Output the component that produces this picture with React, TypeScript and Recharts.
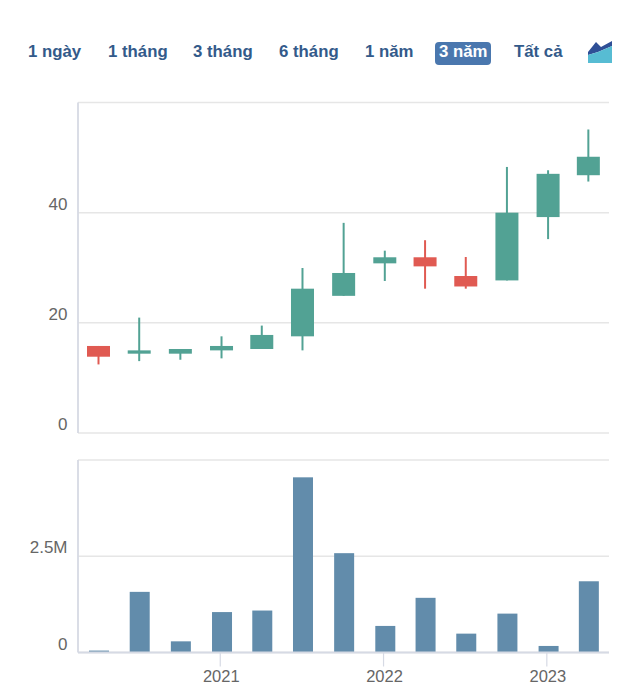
import { BarChart, Bar, XAxis, YAxis, CartesianGrid } from 'recharts';

const dates = ['2020-04-03', '2020-07-03', '2020-10-03', '2021-01-03', '2021-04-03', '2021-07-03', '2021-10-03', '2022-01-03', '2022-04-03', '2022-07-03', '2022-10-03', '2023-01-03', '2023-04-03'];
const opens = [15.8, 14.4, 14.4, 15.0, 15.25, 17.55, 24.9, 30.8, 31.9, 28.5, 27.7, 39.2, 46.8];
const highs = [15.8, 20.95, 15.25, 17.55, 19.5, 29.95, 38.15, 33.1, 35.0, 31.95, 48.3, 47.7, 55.1];
const lows = [12.45, 13.05, 13.3, 13.55, 15.25, 15.0, 24.9, 27.6, 26.2, 26.2, 27.7, 35.2, 45.65];
const closes = [13.85, 15.0, 15.25, 15.8, 17.8, 26.2, 29.05, 31.9, 30.25, 26.6, 40.0, 47.05, 50.15];
const volumes = [50000, 1575000, 290000, 1050000, 1090000, 4550000, 2580000, 690000, 1420000, 490000, 1010000, 170000, 1850000];

const priceTicks = [0, 20, 40, 60];
const volumeTicks = [0, 2500000, 5000000];
const yearTicks = ['2021-01-01', '2022-01-01', '2023-01-01'];
const ranges = ['1 ngày', '1 tháng', '3 tháng', '6 tháng', '1 năm', '3 năm', 'Tất cả'];
const rangeLefts = [28, 108, 193, 279, 365, 439, 514];
const activeRange = '3 năm';

const toTime = (d: string) => Date.parse(d + 'T00:00:00Z');
const xDomain = [toTime('2020-02-18'), toTime('2023-05-20')];

const priceData = dates.map((d, i) => ({ time: toTime(d), open: opens[i], high: highs[i], low: lows[i], close: closes[i], range: [lows[i], highs[i]] }));
const volumeData = dates.map((d, i) => ({ time: toTime(d), volume: volumes[i] }));

const FONT = '"Liberation Sans", Arial, sans-serif';
const AXIS = '#d6dae4';
const GRID = '#e6e6e6';
const LABEL = '#666666';
const UP = '#52a294';
const DOWN = '#e05a52';

function Candle(props: any) {
    const { x, y, width, height, payload } = props;
    const { open, high, low, close } = payload;
    const perUnit = height / (high - low);
    const toY = (v: number) => y + (high - v) * perUnit;
    const top = toY(Math.max(open, close));
    const bottom = toY(Math.min(open, close));
    const color = close >= open ? UP : DOWN;
    const mid = x + width / 2;
    return (
        <g>
            <line x1={mid} x2={mid} y1={y} y2={y + height} stroke={color} strokeWidth={2} />
            <rect x={x} y={top} width={width} height={Math.max(bottom - top, 1)} fill={color} />
        </g>
    );
}

// volume columns sit a pixel right of the candles in the original
function VolumeBar(props: any) {
    const { x, y, width, height } = props;
    return <rect x={x + 1} y={y} width={width} height={height} fill="#628cab" />;
}

function YTick(props: any) {
    const { x, y, payload, top } = props;
    if (payload.value === top) return null;
    const label = payload.value >= 1000000 ? `${payload.value / 1000000}M` : `${payload.value}`;
    return <text x={x - 2.5} y={y - 3} textAnchor="end" fill={LABEL} fontSize={17} fontFamily={FONT}>{label}</text>;
}

function YearTick(props: any) {
    const { x, y, payload } = props;
    return <text x={x + 1} y={y + 13} textAnchor="middle" fill={LABEL} fontSize={16.5} fontFamily={FONT}>{new Date(payload.value).getUTCFullYear()}</text>;
}

function RangeBar() {
    return (
        <>
            {ranges.map((r, i) => {
                const on = r === activeRange;
                return (
                    <div key={r} style={{ position: 'absolute', left: rangeLefts[i] - (on ? 4 : 0), top: 42, height: 23, lineHeight: '20px', padding: on ? '0 3px 0 4px' : 0, borderRadius: 4, background: on ? '#4a77ae' : 'none', color: on ? '#fff' : '#335a8a', fontWeight: 700, fontSize: 16.8, whiteSpace: 'nowrap' }}>{r}</div>
                );
            })}
            <svg style={{ position: 'absolute', left: 588, top: 41 }} width={24} height={22}>
                <path d="M0 11 L8 1 L13 6 L24 0 L24 5 L10 11 L0 14 Z" fill="#2f4f96" />
                <path d="M0 14 L10 11 L24 5 L24 22 L0 22 Z" fill="#57bcd3" />
            </svg>
        </>
    );
}

export default function App() {
    return (
        <div style={{ position: 'absolute', left: 0, top: 0, width: 640, height: 698, background: '#fff', fontFamily: FONT }}>
            <RangeBar />
            <div style={{ position: 'absolute', left: 0, top: 0 }}>
                <BarChart width={640} height={450} data={priceData} margin={{ top: 102.5, right: 31, bottom: 17, left: 0 }}>
                    <CartesianGrid horizontal vertical={false} stroke={GRID} strokeWidth={1.5} />
                    <XAxis dataKey="time" type="number" scale="linear" domain={xDomain} height={0} tick={false} tickLine={false} axisLine={{ stroke: AXIS, strokeWidth: 1.8 }} allowDataOverflow />
                    <YAxis width={78} domain={[0, 60]} ticks={priceTicks} interval={0} tickLine={false} axisLine={{ stroke: AXIS, strokeWidth: 1.8 }} tick={<YTick top={60} />} />
                    <Bar dataKey="range" barSize={23} isAnimationActive={false} shape={<Candle />} />
                </BarChart>
            </div>
            <div style={{ position: 'absolute', left: 0, top: 450 }}>
                <BarChart width={640} height={248} data={volumeData} margin={{ top: 10, right: 31, bottom: 0.5, left: 0 }}>
                    <CartesianGrid horizontal vertical={false} stroke={GRID} strokeWidth={1.5} />
                    <XAxis dataKey="time" type="number" scale="linear" domain={xDomain} ticks={yearTicks.map(toTime)} interval={0} height={45} tickSize={14} tickLine={{ stroke: AXIS, strokeWidth: 1.2 }} axisLine={{ stroke: AXIS, strokeWidth: 1.8 }} tick={<YearTick />} allowDataOverflow />
                    <YAxis width={78} domain={[0, 5000000]} ticks={volumeTicks} interval={0} tickLine={false} axisLine={{ stroke: AXIS, strokeWidth: 1.8 }} tick={<YTick top={5000000} />} />
                    <Bar dataKey="volume" barSize={20} isAnimationActive={false} shape={<VolumeBar />} />
                </BarChart>
            </div>
        </div>
    );
}
